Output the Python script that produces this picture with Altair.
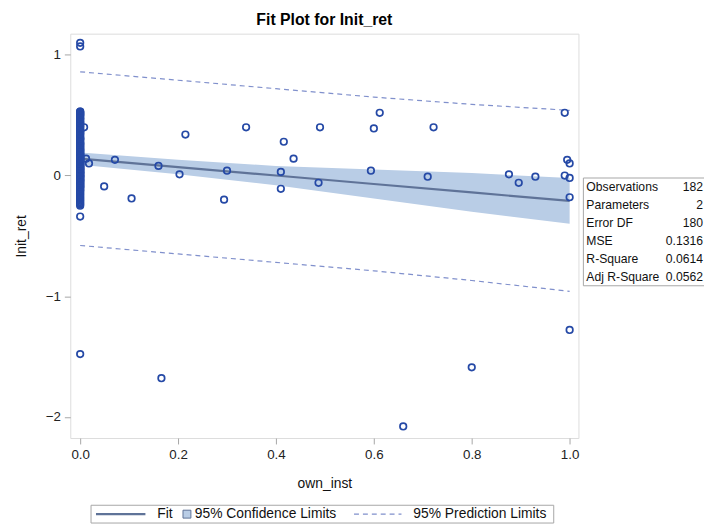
import altair as alt
import pandas as pd

# ---- data ----
# points at own_inst = 0 (dense column)
col_y = [
    1.10, 1.07,
    0.53, 0.53, 0.52, 0.52, 0.51, 0.50, 0.50, 0.49, 0.48, 0.47, 0.46, 0.45,
    0.44, 0.43, 0.42, 0.41, 0.40, 0.39, 0.38, 0.37, 0.36, 0.35, 0.34, 0.33,
    0.32, 0.31, 0.30, 0.30, 0.29, 0.28, 0.27, 0.26, 0.26, 0.25, 0.24, 0.23,
    0.22, 0.22, 0.21, 0.20, 0.20, 0.19, 0.18, 0.18, 0.17, 0.17, 0.16, 0.16,
    0.15, 0.15, 0.14, 0.14, 0.13, 0.13, 0.12, 0.12, 0.11, 0.11, 0.10, 0.10,
    0.09, 0.09, 0.08, 0.08, 0.07, 0.07, 0.06, 0.06, 0.05, 0.05, 0.04, 0.04,
    0.03, 0.03, 0.02, 0.02, 0.01, 0.01, 0.00, 0.00, 0.00, -0.01, -0.01,
    -0.02, -0.02, -0.03, -0.03, -0.04, -0.04, -0.05, -0.05, -0.06, -0.06,
    -0.07, -0.07, -0.08, -0.08, -0.09, -0.10, -0.10, -0.11, -0.12, -0.13,
    -0.14, -0.15, -0.16, -0.17, -0.18, -0.19, -0.20, -0.21, -0.22, -0.23,
    -0.24, -0.25, 0.05, 0.12, 0.18, 0.24, 0.31, 0.37, 0.44, -0.01, -0.04,
    0.02, 0.08, 0.15, 0.21, 0.27, 0.35, 0.41, 0.47, 0.51, -0.09, -0.12,
    0.03, 0.06, 0.10, 0.14,
    -0.34, -1.48,
]
# points with own_inst > 0
pt_x = [0.008, 0.012, 0.018, 0.049, 0.071, 0.105, 0.160, 0.166, 0.203,
        0.215, 0.294, 0.300, 0.339, 0.410, 0.410, 0.416, 0.436, 0.487,
        0.490, 0.594, 0.600, 0.612, 0.660, 0.710, 0.722, 0.800, 0.876,
        0.896, 0.930, 0.990, 0.990, 0.995, 1.000, 1.000, 1.000, 1.000]
pt_y = [0.40, 0.14, 0.10, -0.09, 0.13, -0.19, 0.08, -1.68, 0.01,
        0.34, -0.20, 0.04, 0.40, 0.03, -0.11, 0.28, 0.14, -0.06,
        0.40, 0.04, 0.39, 0.52, -2.08, -0.01, 0.40, -1.59, 0.01,
        -0.06, -0.01, 0.52, 0.00, 0.13, 0.10, -0.02, -0.18, -1.28]

# fit, confidence and prediction limits
band_x = [0.0, 0.2, 0.4, 0.6, 0.8, 1.0]
fit_y = [0.14, 0.07, 0.00, -0.07, -0.14, -0.21]
conf_lo = [0.09, 0.01, -0.08, -0.19, -0.30, -0.40]
conf_hi = [0.19, 0.13, 0.08, 0.05, 0.02, -0.02]
pred_lo = [-0.58, -0.65, -0.72, -0.79, -0.87, -0.96]
pred_hi = [0.86, 0.79, 0.72, 0.65, 0.59, 0.54]

stat_names = ["Observations", "Parameters", "Error DF", "MSE", "R-Square", "Adj R-Square"]
stat_values = ["182", "2", "180", "0.1316", "0.0614", "0.0562"]

# ---- styling ----
FONT = "Liberation Sans"
MARK_C = "#2549a6"
FIT_C = "#5f7398"
BAND_C = "#b9cde6"
PRED_C = "#8090cc"
FRAME_C = "#a6a6a6"
TXT_C = "#111111"

W, H = 514, 409

pts = pd.DataFrame({
    "own_inst": [0.0] * len(col_y) + pt_x,
    "lnit_ret": col_y + pt_y,
})
bands = pd.DataFrame({"x": band_x, "fit": fit_y, "clo": conf_lo, "chi": conf_hi})
pred_long = pd.concat([
    pd.DataFrame({"x": band_x, "y": pred_lo, "k": "lo"}),
    pd.DataFrame({"x": band_x, "y": pred_hi, "k": "hi"}),
])

xs = alt.Scale(domain=[-0.0202, 1.018], nice=False, zero=False)
ys = alt.Scale(domain=[-2.176, 1.176], nice=False, zero=False)

ax_common = dict(grid=False, domain=False, tickColor=FRAME_C, tickSize=6,
                 labelFont=FONT, labelFontSize=13.5, labelColor="#222",
                 titleFont=FONT, titleFontSize=14, titleColor=TXT_C,
                 titleFontWeight="normal")
xax = alt.Axis(values=[0, 0.2, 0.4, 0.6, 0.8, 1.0], format=".1f", title="own_inst",
               labelPadding=4, titlePadding=16, **ax_common)
yax = alt.Axis(values=[-2, -1, 0, 1], format="d", title="Init_ret",
               labelPadding=4, titlePadding=17, **ax_common)

band = alt.Chart(bands).mark_area(color=BAND_C, opacity=1).encode(
    x=alt.X("x:Q", scale=xs, axis=xax),
    y=alt.Y("clo:Q", scale=ys, axis=yax),
    y2="chi:Q",
)
fit = alt.Chart(bands).mark_line(color=FIT_C, strokeWidth=2.2).encode(
    x=alt.X("x:Q", scale=xs), y=alt.Y("fit:Q", scale=ys)
)
pred = alt.Chart(pred_long).mark_line(color=PRED_C, strokeWidth=1.2,
                                      strokeDash=[5, 4]).encode(
    x=alt.X("x:Q", scale=xs), y=alt.Y("y:Q", scale=ys), detail="k:N"
)
points = alt.Chart(pts).mark_point(shape="circle", filled=False, size=44,
                                   strokeWidth=1.7, color=MARK_C, opacity=1).encode(
    x=alt.X("own_inst:Q", scale=xs), y=alt.Y("lnit_ret:Q", scale=ys)
)

# ---- statistics inset (pixel layout relative to plot origin) ----
one = pd.DataFrame({"a": [0]})
table_layers = [alt.Chart(one).mark_rect(fill="white", stroke=FRAME_C, strokeWidth=1).encode(
    x=alt.value(519), x2=alt.value(645), y=alt.value(146), y2=alt.value(255))]
for i, (nm, vl) in enumerate(zip(stat_names, stat_values)):
    yy = 155 + 18.2 * i
    table_layers.append(alt.Chart(one).mark_text(
        align="left", baseline="middle", font=FONT, fontSize=12.3, color=TXT_C).encode(
        x=alt.value(522), y=alt.value(yy), text=alt.value(nm)))
    table_layers.append(alt.Chart(one).mark_text(
        align="right", baseline="middle", font=FONT, fontSize=12.3, color=TXT_C).encode(
        x=alt.value(640), y=alt.value(yy), text=alt.value(vl)))

# ---- legend (pixel layout relative to plot origin) ----
LY = 486
LF = 14
legend_layers = [
    alt.Chart(one).mark_rect(fill="white", stroke=FRAME_C, strokeWidth=1).encode(
        x=alt.value(21), x2=alt.value(489), y=alt.value(477), y2=alt.value(495)),
    alt.Chart(one).mark_rule(color=FIT_C, strokeWidth=2.2).encode(
        x=alt.value(26), x2=alt.value(76), y=alt.value(LY)),
    alt.Chart(one).mark_text(align="left", baseline="middle", font=FONT,
                             fontSize=LF, color=TXT_C).encode(
        x=alt.value(88), y=alt.value(LY), text=alt.value("Fit")),
    alt.Chart(one).mark_point(shape="square", filled=True, size=64, fill=BAND_C,
                              stroke=FIT_C, strokeWidth=1, opacity=1).encode(
        x=alt.value(118), y=alt.value(LY)),
    alt.Chart(one).mark_text(align="left", baseline="middle", font=FONT,
                             fontSize=LF, color=TXT_C).encode(
        x=alt.value(126), y=alt.value(LY), text=alt.value("95% Confidence Limits")),
    alt.Chart(one).mark_rule(color=PRED_C, strokeWidth=1.2, strokeDash=[5, 4]).encode(
        x=alt.value(287), x2=alt.value(335), y=alt.value(LY)),
    alt.Chart(one).mark_text(align="left", baseline="middle", font=FONT,
                             fontSize=LF, color=TXT_C).encode(
        x=alt.value(347), y=alt.value(LY), text=alt.value("95% Prediction Limits")),
]

chart = alt.layer(
    band, fit, pred, points, *table_layers, *legend_layers
).properties(
    width=W, height=H,
    title=alt.TitleParams("Fit Plot for Init_ret", font=FONT, fontSize=16,
                          fontWeight="bold", color="#000", anchor="middle", offset=6),
    autosize=alt.AutoSizeParams(type="none"),
    padding={"left": 63, "top": 23, "right": 127, "bottom": 84},
).configure_view(
    stroke=FRAME_C, strokeWidth=1.2
).configure(background="white")

chart.save("out.html", embed_options={"renderer": "svg", "actions": False})
